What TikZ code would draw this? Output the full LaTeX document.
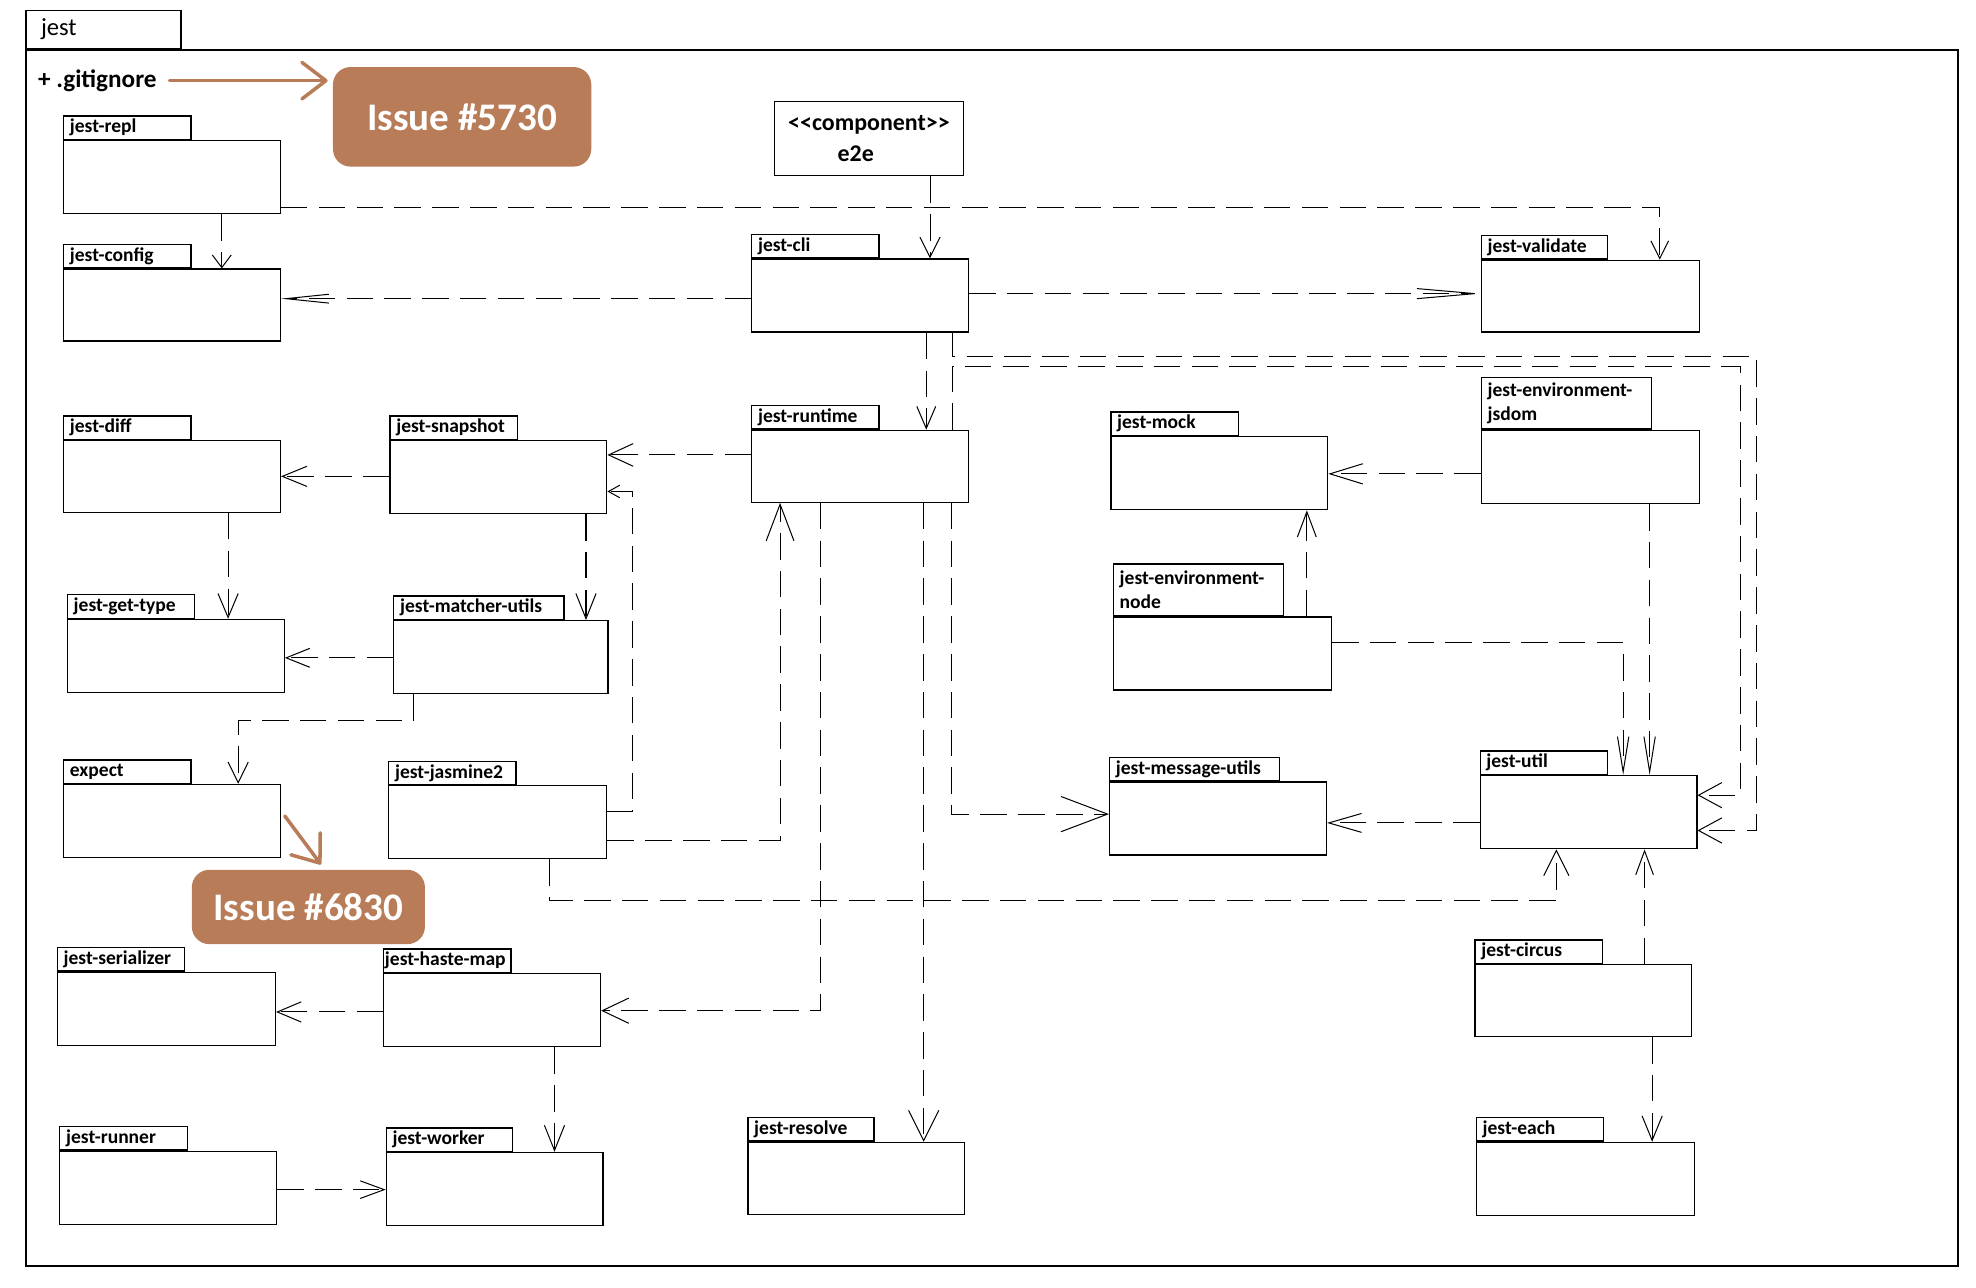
\documentclass[tikz,border=0pt]{standalone}
\usepackage{fontspec}
\setmainfont{Carlito}
\usetikzlibrary{arrows.meta,calc}
\definecolor{issue}{RGB}{185,124,88}
\newcommand\lbl{\fontsize{15.5}{19.5}\selectfont\bfseries}
\newcommand\mypkg[8]{%
  \node[pbox, minimum width=#5pt, minimum height=#6pt] (#1) at (#3,#4) {};
  \node[ptab, text width=#7pt, minimum height=#8pt] (#1t) at (#1.north west) {#2};
}
\begin{document}
\begin{tikzpicture}[x=1pt,y=-1pt,
  pbox/.style={draw, line width=1pt, anchor=north west, inner sep=0pt},
  ptab/.style={draw, line width=1pt, anchor=south west, inner xsep=5pt, inner ysep=0pt, align=left, font=\lbl},
  dep/.style={line width=0.8pt, dash pattern=on 21pt off 9pt, -{Straight Barb[length=19pt,width=16pt]}},
  hd/.style 2 args={-{Straight Barb[length=#1pt,width=#2pt]}},
  issuebox/.style={fill=issue, rounded corners=14pt, text=white, font=\fontsize{31}{31}\selectfont\bfseries, inner sep=0pt, anchor=north west},
  brownarrow/.style={draw=issue, line width=2.8pt, line cap=round, -{Straight Barb[length=19pt,width=29pt,round]}}
]
\useasboundingbox (0,0) rectangle (1568,1022);
\fill[white] (0,0) rectangle (1568,1022);

% frame
\node[draw, line width=1.1pt, anchor=north west, minimum width=1533pt, minimum height=965pt, inner sep=0pt] (frame) at (20,39) {};
\node[draw, line width=1.1pt, anchor=south west, minimum height=30pt, text width=111pt, inner xsep=6pt, inner ysep=0pt, align=left, font=\fontsize{19.5}{20}\selectfont] (framet) at (frame.north west) {\hspace*{6pt}jest};

\node[anchor=west, inner sep=0pt, font=\fontsize{20}{20}\selectfont\bfseries] (gitignore) at (30,64) {+ .gitignore};

% issue boxes
\node[issuebox, minimum width=205pt, minimum height=79pt] (i5730) at (264,53) {Issue \#5730};
\node[issuebox, minimum width=185pt, minimum height=59pt] (i6830) at (152,690) {Issue \#6830};

% e2e component
\node[draw, line width=1pt, anchor=north west, minimum width=150pt, minimum height=59pt, inner sep=0pt, align=center, font=\fontsize{19}{24}\selectfont\bfseries] (e2e) at (614,80) {<{}<component>{}>\\\hspace*{-21pt}e2e};

% packages: name, label, x, y(box top), w, h, tab text width, tab height
\mypkg{repl}{jest-repl}{50}{111}{172}{58}{91}{18.5}
\mypkg{config}{jest-config}{50}{213}{172}{57}{91}{18.5}
\mypkg{diff}{jest-diff}{50}{349}{172}{57}{91}{18.5}
\mypkg{gettype}{jest-get-type}{53}{491}{172}{58}{91}{18.5}
\mypkg{expect}{expect}{50}{622}{172}{58}{91}{18.5}
\mypkg{serializer}{\mbox{jest-serializer}}{45}{771}{173}{58}{91}{18.5}
\mypkg{runner}{jest-runner}{47}{913}{172}{58}{91}{18.5}
\mypkg{snapshot}{jest-snapshot}{309}{349}{172}{58}{91}{18.5}
\mypkg{matcher}{jest-matcher-utils}{312}{492}{170}{58}{125}{18.5}
\mypkg{jasmine}{jest-jasmine2}{308}{623}{173}{58}{91}{18.5}
\mypkg{haste}{\hspace*{-4pt}\mbox{jest-haste-map}}{304}{772}{172}{58}{91}{18.5}
\mypkg{worker}{jest-worker}{306}{914}{172}{58}{90}{18.5}
\mypkg{cli}{jest-cli}{596}{205}{172}{58}{91}{18.5}
\mypkg{runtime}{jest-runtime}{596}{341}{172}{57}{91}{18.5}
\mypkg{resolve}{jest-resolve}{593}{906}{172}{57}{90}{18.5}
\mypkg{mock}{jest-mock}{881}{346}{172}{58}{91}{18.5}
\mypkg{envnode}{jest-environment-\\node}{883}{489}{173}{58}{125}{41}
\mypkg{message}{jest-message-utils}{880}{620}{172}{58}{125}{18.5}
\mypkg{validate}{jest-validate}{1175}{206}{173}{57}{90}{18.5}
\mypkg{jsdom}{jest-environment-\\jsdom}{1175}{341}{173}{58}{125}{41}
\mypkg{util}{jest-util}{1174}{615}{172}{58}{91}{18.5}
\mypkg{circus}{jest-circus}{1170}{765}{172}{57}{91}{18.5}
\mypkg{each}{jest-each}{1171}{906}{173}{58}{91}{18.5}

% brown annotation arrows
\draw[brownarrow] ($(gitignore.east)+(10,0)$) -- ($(i5730.north west |- gitignore.east)+(-4,0)$);
\draw[brownarrow] ($(expect.east)+(3,-4)$) -- ($(i6830.north)+(10,-4)$);

% dependencies
\draw[dep, hd={10}{15}] ($(repl.south west)+(126,0)$) -- ($(config.north west)+(126,0)$);
\draw[dep, hd={14}{14}] ($(repl.south east)+(0,-5)$) -| ($(validate.north west)+(142,0)$);
\draw[dep, hd={16}{16}] ($(e2e.south west)+(124,0)$) -- ($(cli.north west)+(142,0)$);
\draw[dep, hd={34}{7}] ($(cli.north west)+(0,32)$) -- ($(config.north east)+(0,24)$);
\draw[dep, hd={46}{8}] ($(cli.north east)+(0,28)$) -- ($(validate.north west)+(0,27)$);
\draw[dep, hd={17.5}{15}] ($(cli.south west)+(139,0)$) -- ($(runtime.north west)+(139,0)$);
\draw[dep, hd={18.5}{20}] ($(cli.south west)+(160,0)$) -- ($(cli.south west)+(160,19)$) -| ($(util.north east)+(47,44)$) -- ($(util.north east)+(0,44)$);
\draw[dep, hd={18.5}{20}] ($(runtime.north west)+(160,0)$) -- ($(runtime.north west)+(160,-50.4)$) -| ($(util.north east)+(34,16)$) -- ($(util.north east)+(0,16)$);
\draw[dep, hd={19.5}{18}] ($(runtime.north west)+(0,20)$) -- ($(snapshot.north east)+(0,12)$);
\draw[dep, hd={19.5}{16}] ($(snapshot.north west)+(0,29)$) -- ($(diff.north east)+(0,29)$);
\draw[dep, hd={9}{10}] ($(jasmine.north east)+(0,21)$) -- ($(jasmine.north east)+(20,21)$) |- ($(snapshot.north east)+(0,41)$);
\draw[dep] ($(diff.south west)+(131,0)$) -- ($(gettype.north west)+(128,0)$);
\draw[dep, hd={20}{16}] ($(snapshot.south west)+(156,0)$) -- ($(matcher.north west)+(153,0)$);
\draw[dep, hd={18.7}{15}] ($(matcher.north west)+(0,30)$) -- ($(gettype.north east)+(0,31)$);
\draw[dep, hd={16.4}{16}] ($(matcher.south west)+(16,0)$) -- ($(matcher.south west)+(16,21)$) -| ($(expect.north west)+(139,0)$);
\draw[dep, hd={29}{22}] ($(jasmine.north east)+(0,44)$) -| ($(runtime.south west)+(23,0)$);
\draw[dep, hd={20}{20}] ($(jasmine.south west)+(128,0)$) -- ($(jasmine.south west)+(128,32.5)$) -| ($(util.south west)+(61,0)$);
\draw[dep, hd={21}{20}] ($(runtime.south west)+(55,0)$) |- ($(haste.north east)+(0,30)$);
\draw[dep, hd={24}{24}] ($(runtime.south west)+(137,0)$) -- ($(resolve.north west)+(140,0)$);
\draw[dep, hd={37}{28}] ($(runtime.south west)+(159,0)$) |- ($(message.north west)+(0,26)$);
\draw[dep] ($(haste.north west)+(0,31)$) -- ($(serializer.north east)+(0,32)$);
\draw[dep, hd={20}{16}] ($(haste.south west)+(136,0)$) -- ($(worker.north west)+(134,0)$);
\draw[dep, hd={19}{14}] ($(runner.north east)+(0,31)$) -- ($(worker.north west)+(0,30)$);
\draw[dep, hd={26}{16}] ($(jsdom.north west)+(0,35)$) -- ($(mock.north east)+(0,30)$);
\draw[dep, hd={20}{15}] ($(envnode.north west)+(154,0)$) -- ($(mock.south west)+(156,0)$);
\draw[dep, hd={28}{9}] ($(envnode.north east)+(0,21)$) -| ($(util.north west)+(114,0)$);
\draw[dep, hd={28}{9}] ($(jsdom.south west)+(134,0)$) -- ($(util.north west)+(135,0)$);
\draw[dep, hd={26}{15}] ($(util.north west)+(0,38)$) -- ($(message.north east)+(0,33)$);
\draw[dep, hd={19}{14}] ($(circus.north west)+(135,0)$) -- ($(util.south west)+(131,0)$);
\draw[dep, hd={19.5}{16}] ($(circus.south west)+(141,0)$) -- ($(each.north west)+(140,0)$);
\end{tikzpicture}
\end{document}
